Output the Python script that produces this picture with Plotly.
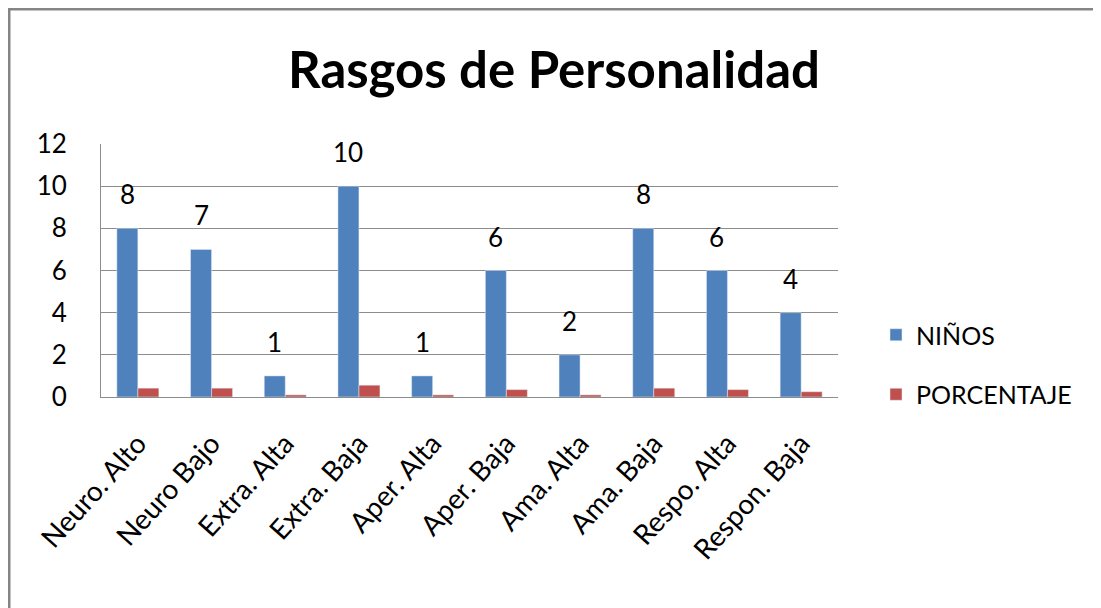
"""Rasgos de personalidad - grouped bars"""

import plotly.graph_objects as go

categories = [
    "Neuro. Alto", "Neuro Bajo", "Extra. Alta", "Extra. Baja", "Aper. Alta",
    "Aper. Baja", "Ama. Alta", "Ama. Baja", "Respo. Alta", "Respon. Baja",
]
ninos = [8, 7, 1, 10, 1, 6, 2, 8, 6, 4]
porcentaje = [0.42, 0.42, 0.1, 0.56, 0.1, 0.35, 0.1, 0.42, 0.35, 0.25]
y_ticks = [0, 2, 4, 6, 8, 10, 12]

FONT = "Lato"
BLUE = "#4F81BD"
RED = "#C0504D"
GRID = "#8C8C8C"

# page body has an 8px margin, so work in figure coords = page coords - 8
OFF = 8
W, H = 1101 - OFF, 608 - OFF
L, R, T, B = 101 - OFF, 838 - OFF, 144 - OFF, 397 - OFF
pw, ph = R - L, B - T

fig = go.Figure()
fig.add_trace(go.Bar(x=categories, y=ninos, name="NIÑOS", marker_color=BLUE,
                     legendgroup="a"))
fig.add_trace(go.Bar(x=categories, y=porcentaje, name="PORCENTAJE", marker_color=RED,
                     legendgroup="b"))

# value labels above the blue bars
for c, v in zip(categories, ninos):
    fig.add_annotation(x=c, y=v, text=str(v), showarrow=False, xshift=-10.5,
                       yanchor="bottom", yshift=16,
                       font=dict(family=FONT, size=26, color="#000000"))

# outer chart frame
fig.add_shape(type="rect", xref="paper", yref="paper",
              x0=(9 - OFF - L) / pw, x1=(1099 - OFF - L) / pw,
              y0=(B - 640) / ph, y1=(B - (8 - OFF) - 1) / ph,
              line=dict(color="#858585", width=3), fillcolor="rgba(0,0,0,0)")

fig.update_layout(
    width=W, height=H,
    margin=dict(l=L, r=W - R, t=T, b=H - B, pad=0),
    paper_bgcolor="white", plot_bgcolor="white",
    barmode="group", bargap=0.43, bargroupgap=0,
    title=dict(text="<b>Rasgos de Personalidad</b>", x=(554 - OFF) / W, xanchor="center",
               y=1 - (70 - OFF) / H, yanchor="middle",
               font=dict(family=FONT, size=51, color="#000000")),
    legend=dict(x=(876 - OFF - L) / pw, xanchor="left", y=(B - (312 - OFF)) / ph,
                yanchor="top",
                font=dict(family=FONT, size=25, color="#000000"),
                tracegroupgap=24, bgcolor="rgba(0,0,0,0)"),
    showlegend=True,
)
fig.update_yaxes(range=[0, 12], tickvals=y_ticks, showgrid=True, gridcolor=GRID,
                 gridwidth=1, showline=True, linecolor=GRID, linewidth=1,
                 zeroline=False, ticks="", ticklabelstandoff=28,
                 tickfont=dict(family=FONT, size=26, color="#000000"))
fig.update_xaxes(showline=True, linecolor=GRID, linewidth=1, ticks="",
                 tickangle=-48, ticklabelstandoff=18,
                 tickfont=dict(family=FONT, size=28, color="#000000"))

fig.write_html("out.html")
